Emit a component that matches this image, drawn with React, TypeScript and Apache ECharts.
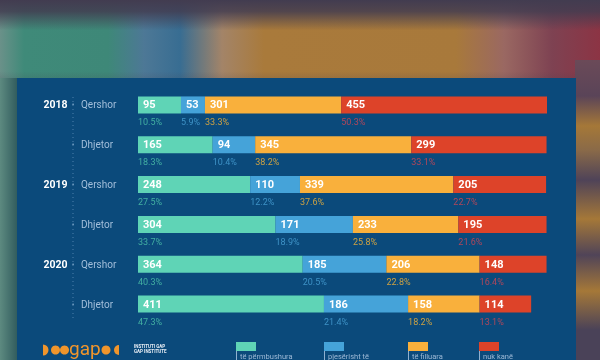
import React, { useEffect, useRef } from "react";
import * as echarts from "echarts";

// ---- data ----
const rowLabels = [
  "2018 Qershor",
  "2018 Dhjetor",
  "2019 Qershor",
  "2019 Dhjetor",
  "2020 Qershor",
  "2020 Dhjetor",
];
const seriesNames = [
  "të përmbushura",
  "pjesërisht të përmbushura",
  "të filluara",
  "nuk kanë filluar",
];
const legendTexts = ["të përmbushura", "pjesërisht të", "të filluara", "nuk kanë"];
const fulfilled = [95, 165, 248, 304, 364, 411];
const partlyFulfilled = [53, 94, 110, 171, 185, 186];
const started = [301, 345, 339, 233, 206, 158];
const notStarted = [455, 299, 205, 195, 148, 114];

const seriesValues = [fulfilled, partlyFulfilled, started, notStarted];
const barColors = ["#5fd4b6", "#45a3d9", "#f9b03c", "#dd4329"];
const pctColors = ["#43b0a2", "#3e92c6", "#cda243", "#b0475b"];

const rowTotals = rowLabels.map((_, i) =>
  seriesValues.reduce((s, arr) => s + arr[i], 0)
);

const FONT = "Roboto, 'Noto Sans', sans-serif";

export default function App() {
  const ref = useRef<HTMLDivElement>(null);

  useEffect(() => {
    if (!ref.current) return;
    const chart = echarts.init(ref.current, undefined, { renderer: "svg" });
    const LG = echarts.graphic.LinearGradient;

    const background: any[] = [
      { type: "rect", shape: { x: 0, y: 0, width: 600, height: 360 }, style: { fill: "#463f52" }, z: 0 },
      {
        type: "rect",
        shape: { x: 0, y: 0, width: 600, height: 95 },
        style: {
          fill: new LG(0, 0, 1, 0, [
            { offset: 0, color: "#6a9189" },
            { offset: 0.04, color: "#3f8a79" },
            { offset: 0.18, color: "#3e8878" },
            { offset: 0.24, color: "#4d7896" },
            { offset: 0.3, color: "#386d92" },
            { offset: 0.37, color: "#a38468" },
            { offset: 0.44, color: "#a97a3b" },
            { offset: 0.76, color: "#a8793b" },
            { offset: 0.84, color: "#9a6862" },
            { offset: 0.92, color: "#7e4252" },
            { offset: 1, color: "#8c3444" },
          ]),
        },
        z: 0,
      },
      {
        type: "rect",
        shape: { x: 0, y: 0, width: 600, height: 95 },
        style: {
          fill: new LG(0, 0, 0, 1, [
            { offset: 0, color: "rgba(66,60,80,1)" },
            { offset: 0.12, color: "rgba(66,60,80,0.85)" },
            { offset: 0.32, color: "rgba(66,60,80,0)" },
            { offset: 0.75, color: "rgba(66,60,80,0)" },
            { offset: 1, color: "rgba(66,60,80,0.5)" },
          ]),
        },
        z: 0,
      },
      {
        type: "rect",
        shape: { x: 0, y: 78, width: 18, height: 282 },
        style: {
          fill: new LG(0, 0, 1, 0, [
            { offset: 0, color: "#5d8a80" },
            { offset: 1, color: "#2f5a5c" },
          ]),
        },
        z: 0,
      },
      {
        type: "rect",
        shape: { x: 575, y: 60, width: 25, height: 300 },
        style: {
          fill: new LG(0, 0, 0, 1, [
            { offset: 0, color: "#6b4a58" },
            { offset: 0.12, color: "#5a4458" },
            { offset: 0.22, color: "#a57838" },
            { offset: 0.3, color: "#8a6a48" },
            { offset: 0.4, color: "#4f4358" },
            { offset: 0.53, color: "#a57838" },
            { offset: 0.65, color: "#504458" },
            { offset: 0.77, color: "#a57838" },
            { offset: 0.9, color: "#4a4258" },
            { offset: 1, color: "#4a4258" },
          ]),
        },
        z: 0,
      },
      { type: "rect", shape: { x: 17, y: 78, width: 559, height: 290 }, style: { fill: "#0b4a7b" }, z: 1 },
      {
        type: "line",
        shape: { x1: 73, y1: 97, x2: 73, y2: 320 },
        style: { stroke: "#4f80ad", lineWidth: 1, lineDash: [1, 3] },
        z: 2,
      },
    ];

    // logo
    const orange = "#f0952c";
    const logo: any[] = [
      { type: "sector", shape: { cx: 43, cy: 350, r: 5.5, startAngle: -Math.PI / 2, endAngle: Math.PI / 2 }, style: { fill: orange }, z: 3 },
      { type: "circle", shape: { cx: 55.5, cy: 350, r: 4.5 }, style: { fill: orange }, z: 3 },
      { type: "circle", shape: { cx: 64.5, cy: 350, r: 4.5 }, style: { fill: orange }, z: 3 },
      {
        type: "text",
        x: 69,
        y: 348.5,
        style: { text: "gap", fill: orange, font: `19px ${FONT}`, verticalAlign: "middle", align: "left" },
        z: 3,
      },
      { type: "circle", shape: { cx: 106, cy: 350, r: 4.5 }, style: { fill: orange }, z: 3 },
      { type: "sector", shape: { cx: 119, cy: 350, r: 5, startAngle: Math.PI / 2, endAngle: (3 * Math.PI) / 2 }, style: { fill: orange }, z: 3 },
      {
        type: "text",
        x: 134,
        y: 343.5,
        style: { text: "INSTITUTI GAP\nGAP INSTITUTE", fill: "#e8eef5", font: `bold 4.5px ${FONT}`, lineHeight: 5.5, verticalAlign: "top" },
        z: 3,
      },
    ];

    // legend
    const legendX = [236, 324, 408, 479];
    const legend: any[] = [];
    legendTexts.forEach((t, i) => {
      legend.push({
        type: "rect",
        shape: { x: legendX[i], y: 342, width: 20, height: 9 },
        style: { fill: barColors[i] },
        z: 3,
      });
      legend.push({
        type: "line",
        shape: { x1: legendX[i] + 0.5, y1: 351, x2: legendX[i] + 0.5, y2: 362 },
        style: { stroke: "#8fb0d0", lineWidth: 1 },
        z: 3,
      });
      legend.push({
        type: "text",
        x: legendX[i] + 4,
        y: 352,
        style: { text: t, fill: "#9db9d6", font: `7.5px ${FONT}`, verticalAlign: "top" },
        z: 3,
      });
    });

    const series = seriesValues.map((arr, si) => ({
      name: seriesNames[si],
      type: "bar",
      stack: "total",
      barWidth: 17,
      z: 5,
      data: arr,
      itemStyle: { color: barColors[si] },
      label: {
        show: true,
        position: [0, 0],
        align: "left",
        verticalAlign: "top",
        formatter: (p: any) => {
          const pct = ((p.value / rowTotals[p.dataIndex]) * 100).toFixed(1) + "%";
          return `{v|${p.value}}\n{p|${pct}}`;
        },
        rich: {
          v: {
            color: "#ffffff",
            fontFamily: FONT,
            fontWeight: "bold",
            fontSize: 11,
            lineHeight: 17,
            padding: [0, 0, 0, 5],
          },
          p: {
            color: pctColors[si],
            fontFamily: FONT,
            fontSize: 9,
            lineHeight: 18,
          },
        },
      },
    }));

    chart.setOption({
      animation: false,
      grid: { left: 138, right: 53, top: 85, bottom: 36 },
      xAxis: { type: "value", min: 0, max: 904, show: false },
      yAxis: {
        type: "category",
        inverse: true,
        z: 10,
        data: rowLabels,
        axisLine: { show: false },
        axisTick: { show: false },
        splitLine: { show: false },
        axisLabel: {
          align: "left",
          margin: 94,
          interval: 0,
          formatter: (val: string) => {
            const [year, month] = val.split(" ");
            const y = month === "Qershor" ? year : " ";
            return `{y|${y}}{d|•}{m|${month}}`;
          },
          rich: {
            y: { width: 23, align: "right", color: "#ffffff", fontFamily: FONT, fontWeight: "bold", fontSize: 10.5 },
            d: { width: 12, align: "center", color: "#7fa8cc", fontSize: 8, fontFamily: FONT },
            m: { color: "#a3bfdb", fontSize: 10, fontFamily: FONT, padding: [0, 0, 0, 2] },
          },
        },
      },
      graphic: [...background, ...logo, ...legend],
      series,
    });

    return () => chart.dispose();
  }, []);

  return (
    <div
      ref={ref}
      style={{ position: "fixed", left: 0, top: 0, width: 600, height: 360 }}
    />
  );
}
